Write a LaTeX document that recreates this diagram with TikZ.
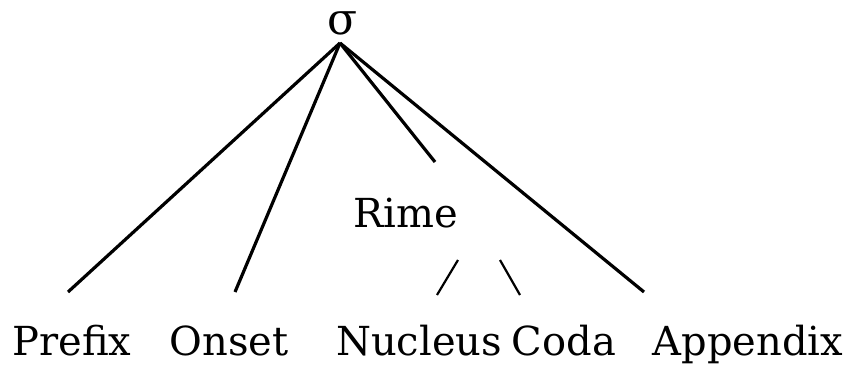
\documentclass[tikz,border=0pt]{standalone}
\usepackage{fontspec}
\setmainfont{DejaVu Serif}
\begin{document}
\begin{tikzpicture}[x=1pt,y=-1pt,
  lbl/.style={anchor=base,inner sep=0pt,font=\fontsize{40}{46}\selectfont},
  branch/.style={line width=3.2pt},
  twig/.style={line width=2.2pt}]
\useasboundingbox (0,0) rectangle (853,367);
% labels
\node[lbl,font=\fontsize{44}{50}\selectfont] (sigma) at (343,34) {σ};
\node[lbl] (rime) at (406,227) {Rime};
\node[lbl] (prefix) at (72,355) {Prefix};
\node[lbl] (onset) at (229,355) {Onset};
\node[lbl] (nucleus) at (419,355) {Nucleus};
\node[lbl] (coda) at (564,355) {Coda};
\node[lbl] (appendix) at (748,355) {Appendix};
% branch end points
\coordinate (top) at (340,43);
\coordinate (pE) at (68,292);
\coordinate (oE) at (235,292);
\coordinate (rE) at (435,162);
\coordinate (aE) at (644,292);
\coordinate (nT) at (458,260);
\coordinate (nB) at (437,295);
\coordinate (cT) at (500,260);
\coordinate (cB) at (520,295);
% syllable branches
\draw[branch] (top) -- (pE);
\draw[branch] (top) -- (oE);
\draw[branch] (top) -- (rE);
\draw[branch] (top) -- (aE);
% rime branches
\draw[twig] (nT) -- (nB);
\draw[twig] (cT) -- (cB);
\end{tikzpicture}
\end{document}
